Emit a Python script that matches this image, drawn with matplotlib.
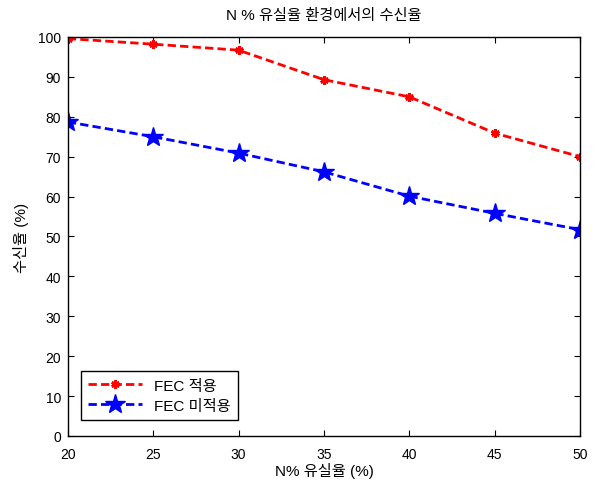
import matplotlib
matplotlib.use("Agg")
import matplotlib.pyplot as plt

plt.rcParams['font.family'] = ['Liberation Sans', 'Noto Sans CJK KR', 'DejaVu Sans']

x = [20, 25, 30, 35, 40, 45, 50]
fec = [99.6, 98.2, 96.7, 89.3, 85.0, 75.9, 70.0]
no_fec = [78.7, 75.0, 70.9, 66.2, 60.1, 55.8, 51.7]
labels = ['FEC 적용', 'FEC 미적용']

fig = plt.figure(figsize=(5.95, 4.81), dpi=100)
ax = fig.add_axes([0.114, 0.0915, 0.861, 0.8295])
ax.plot(x, fec, 'r', linestyle=(0, (3, 1.5)), marker=(6, 2, 0), markersize=6, linewidth=2, markeredgewidth=2, label=labels[0])
ax.plot(x, no_fec, 'b', linestyle=(0, (3, 1.5)), marker='*', markersize=15, linewidth=2, label=labels[1])
ax.set_xlim(20, 50)
ax.set_ylim(0, 100)
ax.set_xticks(range(20, 51, 5))
ax.set_yticks(range(0, 101, 10))
ax.tick_params(direction='in', labelsize=10, length=4, top=True, right=True)
ax.tick_params(axis='x', pad=8)
ax.tick_params(axis='y', pad=5)
for s in ax.spines.values():
    s.set_linewidth(1)
ax.set_title('N % 유실율 환경에서의 수신율', fontsize=11, pad=13)
ax.set_xlabel('N% 유실율 (%)', fontsize=11, labelpad=1)
ax.set_ylabel('수신율 (%)', fontsize=11, labelpad=6)
leg = ax.legend(loc='lower left', fontsize=11, fancybox=False, edgecolor='black', framealpha=1,
                handlelength=3.5, borderpad=0.5, labelspacing=0.4, bbox_to_anchor=(0.01, 0.02))
leg.get_frame().set_linewidth(1)
fig.savefig('out.png', dpi=100)
